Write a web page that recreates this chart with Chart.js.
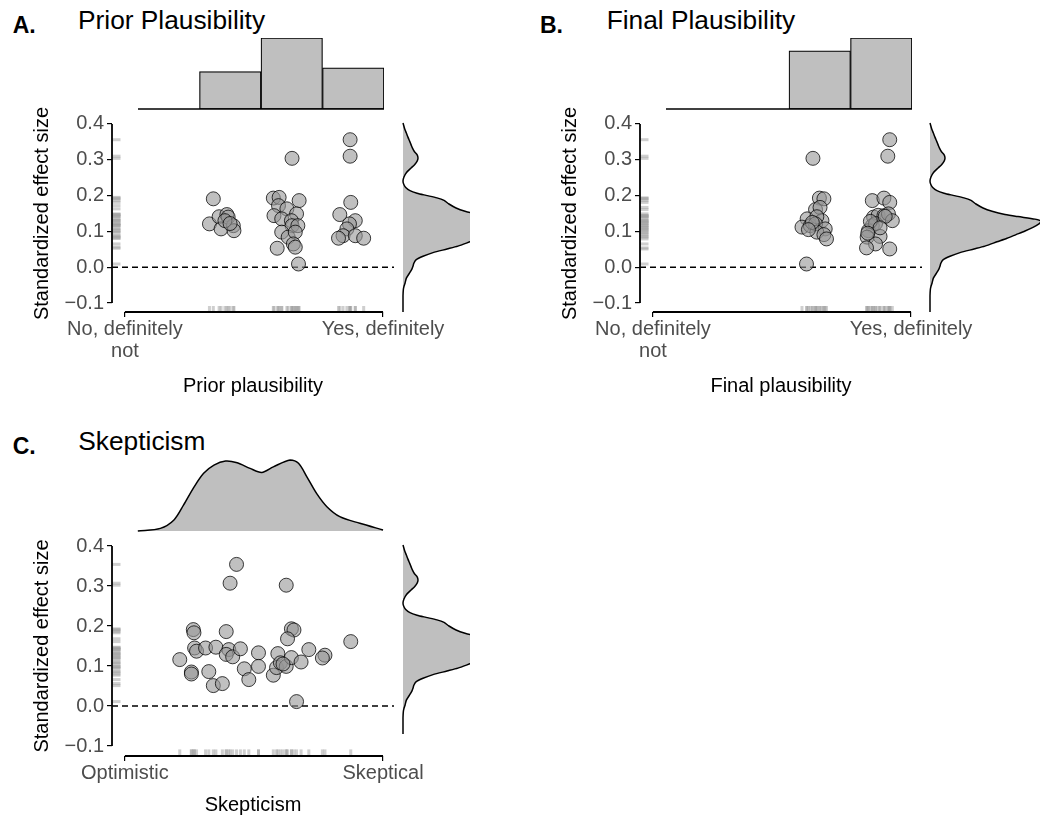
<!DOCTYPE html>
<html><head><meta charset="utf-8">
<script src="https://cdn.jsdelivr.net/npm/chart.js@4.4.1/dist/chart.umd.min.js"></script>
<style>
html,body{margin:0;padding:0;background:#fff;}
#page{position:relative;width:1040px;height:821px;overflow:hidden;font-family:"Liberation Sans",Arial,sans-serif;background:#fff;}
canvas{position:absolute;}
.t{position:absolute;white-space:nowrap;line-height:1;color:#000;}
</style></head><body><div id="page">
<div class="t" style="left:12.7px;top:13.8px;font-weight:bold;font-size:23px">A.</div>
<div class="t" style="left:78px;top:7px;font-size:26.3px">Prior Plausibility</div>
<div class="t" style="left:540px;top:13.8px;font-weight:bold;font-size:23px">B.</div>
<div class="t" style="left:606.7px;top:6.5px;font-size:26.3px">Final Plausibility</div>
<div class="t" style="left:12.7px;top:434.5px;font-weight:bold;font-size:23px">C.</div>
<div class="t" style="left:78.3px;top:427.7px;font-size:26.3px">Skepticism</div>
</div>
<script>
// ---------------- data ----------------
const yTicks = [-0.1, 0, 0.1, 0.2, 0.3, 0.4];
const yTickLabels = ['\u22120.1', '0.0', '0.1', '0.2', '0.3', '0.4'];
const xTickValues = [1, 5];
const priorTickLabels = [['No, definitely', 'not'], 'Yes, definitely'];
const finalTickLabels = [['No, definitely', 'not'], 'Yes, definitely'];
const skepTickLabels = ['Optimistic', 'Skeptical'];

const priorX = [2.37,2.31,2.46,2.49,2.58,2.60,2.68,2.69,2.55,2.63,
  3.59,3.30,3.39,3.38,3.51,3.70,3.31,3.43,3.66,3.58,3.59,3.68,3.43,3.53,3.64,3.61,3.64,3.36,3.69,
  4.49,4.49,4.50,4.33,4.57,4.48,4.44,4.38,4.31,4.57,4.70];
const priorY = [0.191,0.121,0.141,0.107,0.147,0.140,0.116,0.102,0.130,0.122,
  0.304,0.193,0.195,0.172,0.163,0.186,0.144,0.135,0.149,0.130,0.116,0.116,0.098,0.084,0.098,0.065,0.056,0.053,0.009,
  0.356,0.310,0.181,0.147,0.130,0.121,0.107,0.088,0.081,0.088,0.081];

const finalX = [3.48,3.58,3.65,3.52,3.59,3.39,3.31,3.44,3.62,3.54,3.52,3.67,3.54,3.65,3.69,3.38,3.47,3.41,
  4.67,4.64,4.40,4.58,4.67,4.42,4.49,4.58,4.65,4.71,4.40,4.34,4.32,4.52,4.45,4.31,4.67,4.45,4.37,4.60,4.52,4.33];
const finalY = [0.304,0.193,0.191,0.161,0.167,0.135,0.112,0.116,0.130,0.141,0.121,0.107,0.098,0.091,0.079,0.009,0.125,0.105,
  0.356,0.310,0.186,0.193,0.181,0.140,0.145,0.144,0.149,0.130,0.116,0.102,0.084,0.086,0.065,0.054,0.051,0.122,0.128,0.142,0.110,0.095];

const skepX = [2.73,2.63,3.50,2.06,2.07,2.57,3.58,3.62,3.52,4.50,1.85,2.08,2.11,2.25,2.41,2.61,2.57,2.67,2.79,3.07,
  2.03,2.03,2.30,2.37,2.51,2.85,2.92,3.07,3.37,3.30,3.35,3.41,3.50,3.58,3.73,3.85,4.10,4.06,3.66,3.45];
const skepY = [0.354,0.307,0.302,0.191,0.183,0.186,0.193,0.190,0.168,0.161,0.116,0.145,0.137,0.145,0.147,0.141,0.129,0.123,0.143,0.133,
  0.085,0.080,0.086,0.051,0.056,0.093,0.066,0.099,0.131,0.077,0.096,0.108,0.099,0.121,0.110,0.141,0.127,0.120,0.011,0.105];

const histBins = ['1\u20132', '2\u20133', '3\u20134', '4\u20135'];
const priorCounts = [0, 10, 19, 11];
const finalCounts = [0, 0, 18, 22];

const skepDensX = [1.20,1.55,1.76,1.91,2.07,2.22,2.38,2.56,2.74,2.94,3.12,3.30,3.56,3.69,3.82,3.97,4.13,4.33,4.64,5.00];
const skepDens  = [0.000,0.015,0.063,0.149,0.251,0.330,0.377,0.400,0.390,0.358,0.335,0.367,0.406,0.387,0.310,0.215,0.139,0.082,0.044,0.006];

const effDensY = [-0.125,-0.1,-0.08,-0.062,-0.054,-0.045,-0.031,-0.017,-0.005,0.002,0.010,0.020,0.030,0.040,0.050,0.058,0.070,0.080,0.090,0.100,0.110,0.120,0.127,0.133,0.140,0.146,0.155,0.164,0.175,0.185,0.192,0.199,0.205,0.212,0.220,0.230,0.239,0.250,0.262,0.275,0.285,0.295,0.303,0.312,0.320,0.330,0.340,0.349,0.360,0.372,0.385,0.400];
const effDens  = [0,0,0,0.03,0.08,0.17,0.28,0.54,0.75,0.83,0.90,1.08,1.67,2.50,3.67,4.58,5.58,6.42,7.17,7.92,8.58,9.08,9.29,8.75,7.33,6.25,5.17,4.42,3.83,3.42,2.83,1.92,1.17,0.58,0.25,0.06,0,0.08,0.28,0.67,0.98,1.19,1.25,1.17,0.96,0.79,0.67,0.56,0.42,0.28,0.13,0];

// ---------------- helpers ----------------
const FONT = "'Liberation Sans', Arial, sans-serif";
Chart.defaults.font.family = FONT;
const X_MIN = 0.8, X_MAX = 5.17, Y_MIN = -0.125, Y_MAX = 0.425;
const GREY = '#bfbfbf';
const TXT = 20;

function cv(left, top, w, h) {
  const c = document.createElement('canvas');
  c.width = w; c.height = h;
  c.style.left = left + 'px'; c.style.top = top + 'px';
  c.style.width = w + 'px'; c.style.height = h + 'px';
  document.getElementById('page').appendChild(c);
  return c;
}

const extras = {
  id: 'extras',
  beforeDatasetsDraw(chart, args, o) {
    const {ctx, chartArea: ca, scales} = chart;
    const xs = scales.x, ys = scales.y;
    ctx.save();
    if (o.rugY) {
      ctx.strokeStyle = 'rgba(160,160,160,0.5)'; ctx.lineWidth = 3;
      o.rugY.forEach(v => { const y = ys.getPixelForValue(v); ctx.beginPath(); ctx.moveTo(ca.left, y); ctx.lineTo(ca.left + o.rugLenY, y); ctx.stroke(); });
    }
    if (o.rugX) {
      ctx.strokeStyle = 'rgba(160,160,160,0.5)'; ctx.lineWidth = 3;
      o.rugX.forEach(v => { const x = xs.getPixelForValue(v); ctx.beginPath(); ctx.moveTo(x, ca.bottom); ctx.lineTo(x, ca.bottom - o.rugLenX); ctx.stroke(); });
    }
    if (o.zeroLine !== undefined && o.zeroLine !== null) {
      const y = ys.getPixelForValue(o.zeroLine);
      ctx.strokeStyle = '#000'; ctx.lineWidth = 1.3; ctx.setLineDash([6, 4]);
      ctx.beginPath(); ctx.moveTo(ca.left, y); ctx.lineTo(ca.right, y); ctx.stroke();
      ctx.setLineDash([]);
    }
    ctx.restore();
  },
  afterDraw(chart, args, o) {
    const {ctx, chartArea: ca, scales} = chart;
    ctx.save();
    ctx.strokeStyle = '#000';
    if (o.capAxes) {
      const xs = scales.x, ys = scales.y;
      ctx.lineWidth = 1.8;
      ctx.beginPath();
      ctx.moveTo(ca.left, ys.getPixelForValue(yTicks[0]));
      ctx.lineTo(ca.left, ys.getPixelForValue(yTicks[yTicks.length - 1]));
      ctx.stroke();
      ctx.beginPath();
      ctx.moveTo(xs.getPixelForValue(xTickValues[0]), ca.bottom);
      ctx.lineTo(xs.getPixelForValue(xTickValues[xTickValues.length - 1]), ca.bottom);
      ctx.stroke();
    }
    if (o.baseline) {
      const y = scales.y.getPixelForValue(0);
      ctx.lineWidth = 1.3;
      ctx.beginPath(); ctx.moveTo(ca.left, y); ctx.lineTo(ca.right, y); ctx.stroke();
    }
    ctx.restore();
  }
};

const base = {responsive: false, animation: false, devicePixelRatio: 1, events: []};

function mainChart(c, xs, ys, tickLabels, title, cfg) {
  return new Chart(c, {
    type: 'scatter',
    data: {datasets: [{
      data: xs.map((x, i) => ({x: x, y: ys[i]})),
      pointRadius: 7, pointHoverRadius: 7, borderWidth: 1,
      backgroundColor: 'rgba(150,150,150,0.6)', borderColor: 'rgba(0,0,0,0.75)'
    }]},
    options: Object.assign({}, base, {
      layout: {padding: {left: 0, right: cfg.padRight, top: 14, bottom: 0}},
      plugins: {legend: {display: false}, tooltip: {enabled: false},
        extras: {capAxes: true, zeroLine: 0, rugX: xs, rugY: ys, rugLenX: cfg.rugLenX, rugLenY: 8.5}},
      scales: {
        x: {type: 'linear', min: X_MIN, max: X_MAX, bounds: 'data',
          afterBuildTicks: s => { s.ticks = xTickValues.map(v => ({value: v})); },
          afterFit: s => { s.height = cfg.xAxisH; },
          ticks: {callback: (v, i) => tickLabels[i], font: {size: TXT, lineHeight: 1.1}, color: '#4d4d4d', padding: 1, maxRotation: 0, minRotation: 0, autoSkip: false},
          grid: {display: true, drawOnChartArea: false, drawTicks: true, tickLength: 5, color: '#000', lineWidth: 1.2},
          border: {display: false},
          title: {display: true, text: title, font: {size: TXT}, color: '#000', padding: {top: 0, bottom: cfg.xTitlePad}}},
        y: {type: 'linear', min: Y_MIN, max: Y_MAX, bounds: 'data',
          afterBuildTicks: s => { s.ticks = yTicks.map(v => ({value: v})); },
          afterFit: s => { s.width = 112; },
          ticks: {callback: (v, i) => yTickLabels[i], font: {size: TXT}, color: '#4d4d4d', padding: 3, autoSkip: false},
          grid: {display: true, drawOnChartArea: false, drawTicks: true, tickLength: 5, color: '#000', lineWidth: 1.2},
          border: {display: false},
          title: {display: true, text: 'Standardized effect size', font: {size: TXT}, color: '#000', padding: {top: 30, bottom: 0}}}
      }
    }),
    plugins: [extras]
  });
}

function histChart(c, counts) {
  return new Chart(c, {
    type: 'bar',
    data: {labels: histBins, datasets: [{data: counts, backgroundColor: GREY, borderColor: '#000', borderWidth: 1.2,
      borderSkipped: false, categoryPercentage: 1, barPercentage: 1}]},
    options: Object.assign({}, base, {
      layout: {padding: 5},
      plugins: {legend: {display: false}, tooltip: {enabled: false}, extras: {baseline: true}},
      scales: {x: {display: false}, y: {display: false, min: 0, max: Math.max.apply(null, counts)}}
    }),
    plugins: [extras]
  });
}

function topDensity(c) {
  return new Chart(c, {
    type: 'scatter',
    data: {datasets: [{data: skepDensX.map((x, i) => ({x: x, y: skepDens[i]})), showLine: true, pointRadius: 0,
      borderColor: '#000', borderWidth: 1.5, backgroundColor: GREY, fill: 'origin', tension: 0.3, clip: false}]},
    options: Object.assign({}, base, {
      layout: {padding: {left: 5, right: 5, top: 5, bottom: 5}},
      plugins: {legend: {display: false}, tooltip: {enabled: false}},
      scales: {x: {type: 'linear', display: false, min: X_MIN, max: X_MAX}, y: {type: 'linear', display: false, min: 0, max: Math.max.apply(null, skepDens)}}
    })
  });
}

function rightDensity(c, xmax) {
  return new Chart(c, {
    type: 'scatter',
    data: {datasets: [{data: effDensY.map((y, i) => ({x: effDens[i], y: y})), showLine: true, pointRadius: 0,
      borderColor: '#000', borderWidth: 1.5, backgroundColor: GREY, fill: 'shape', tension: 0.25,
      clip: {left: 3, top: 3, bottom: 3, right: 0}}]},
    options: Object.assign({}, base, {
      layout: {padding: {left: 5, right: 0, top: 5, bottom: 5}},
      plugins: {legend: {display: false}, tooltip: {enabled: false}},
      scales: {x: {type: 'linear', display: false, min: 0, max: xmax}, y: {type: 'linear', display: false, min: Y_MIN, max: Y_MAX}}
    })
  });
}

// ---------------- Panel A ----------------
histChart(cv(133, 33, 256, 81), priorCounts);
mainChart(cv(0, 100, 460, 310), priorX, priorY, priorTickLabels, 'Prior plausibility',
  {padRight: 66, xAxisH: 98, xTitlePad: 12, rugLenX: 6});
rightDensity(cv(398, 109, 72, 208), 67 / 12);

// ---------------- Panel B ----------------
histChart(cv(661, 33, 256, 81), finalCounts);
mainChart(cv(528, 100, 460, 310), finalX, finalY, finalTickLabels, 'Final plausibility',
  {padRight: 66, xAxisH: 98, xTitlePad: 12, rugLenX: 6});
rightDensity(cv(925, 109, 115, 208), 110 / 12);

// ---------------- Panel C ----------------
topDensity(cv(107, 455, 292, 81));
mainChart(cv(0, 521, 460, 300), skepX, skepY, skepTickLabels, 'Skepticism',
  {padRight: 66, xAxisH: 65, xTitlePad: 4, rugLenX: 6.6});
rightDensity(cv(398, 531, 72, 208), 67 / 12);
</script>
</body></html>
